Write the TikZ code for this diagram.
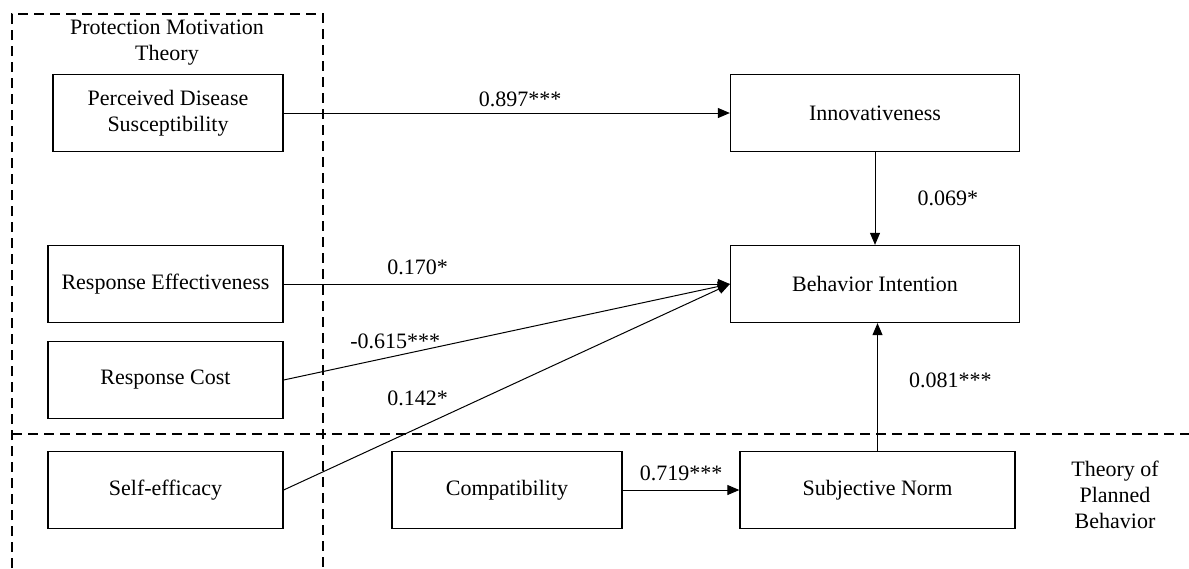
\documentclass[tikz,border=0pt]{standalone}
\usepackage{fontspec}
\setmainfont{Liberation Serif}
\usetikzlibrary{arrows.meta}

\begin{document}
\begin{tikzpicture}[
        x=1pt, y=-1pt,                % one unit per pixel of the layout
        every node/.style={
            font=\fontsize{22}{26}\selectfont,
            align=center
        },
        box/.style={rectangle, draw, line width=1.3pt, minimum height=77pt, inner sep=0pt},
        lbl/.style={inner sep=0pt},
        frame/.style={dash pattern=on 10pt off 6pt, line width=1.3pt},
        arrow/.style={-{Triangle[length=12pt,width=10pt]}, line width=1pt}
    ]
        \useasboundingbox (0,0) rectangle (1189,568);

        % theory frames
        \draw[frame] (12,568) -- (12,14) -- (323,14) -- (323,568);
        \draw[frame] (12,434) -- (1189,434);
        \node[lbl] (pmt) at (167,43) {Protection Motivation\\Theory};
        \node[lbl] (tpb) at (1115,495) {Theory of\\Planned\\Behavior};

        % constructs
        \node[box, minimum width=230pt] (pds) at (168,113) {Perceived Disease\\Susceptibility};
        \node[box, minimum width=235pt] (re) at (165.5,284) {Response Effectiveness};
        \node[box, minimum width=235pt] (rc) at (165.5,380) {Response Cost};
        \node[box, minimum width=235pt] (se) at (165.5,490) {Self-efficacy};
        \node[box, minimum width=289pt] (inn) at (875,113) {Innovativeness};
        \node[box, minimum width=289pt] (bi) at (875,284) {Behavior Intention};
        \node[box, minimum width=230pt] (comp) at (507,490) {Compatibility};
        \node[box, minimum width=275pt] (sn) at (877.5,490) {Subjective Norm};

        % paths
        \draw[arrow] (pds) -- node[lbl, above=6pt, pos=0.53] {0.897***} (inn);
        \draw[arrow] (inn) -- node[lbl, right=42pt] {0.069*} (bi);
        \draw[arrow] (re) -- node[lbl, above=9pt, pos=0.30] {0.170*} (bi);
        \draw[arrow] (rc.east) -- node[lbl, above=7pt, pos=0.25] {-0.615***} (bi.west);
        \draw[arrow] (se.east) -- node[lbl, above=22pt, pos=0.30] {0.142*} (bi.west);
        \draw[arrow] (comp) -- node[lbl, above=9pt] {0.719***} (sn);
        \draw[arrow] (sn.north) -- node[lbl, right=31pt, pos=0.55] {0.081***} (sn.north |- bi.south);
    \end{tikzpicture}
\end{document}
